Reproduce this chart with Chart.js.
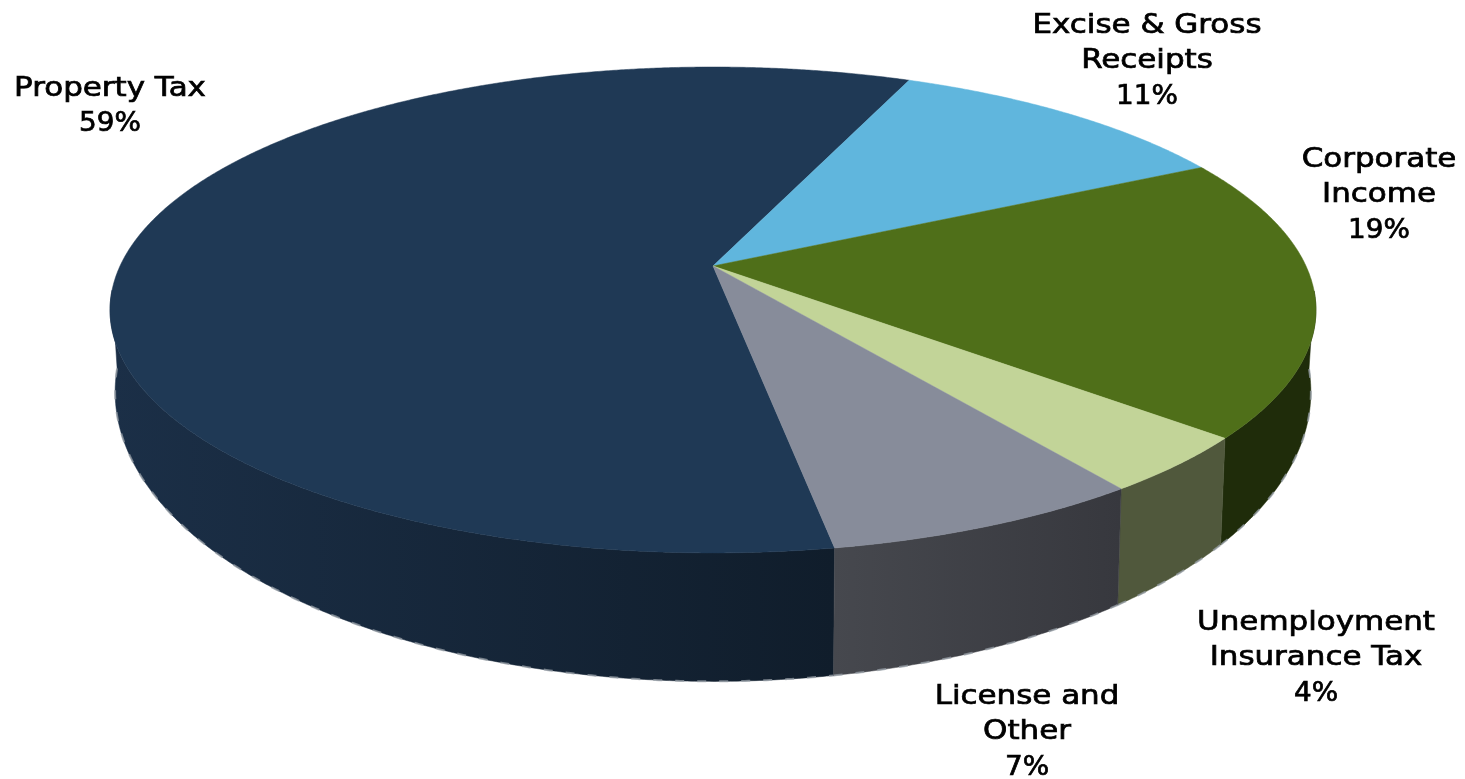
<!DOCTYPE html>
<html>
<head>
<meta charset="utf-8">
<title>Tax revenue by source</title>
<script src="https://cdn.jsdelivr.net/npm/chart.js@4"></script>
<style>
  html, body { margin: 0; padding: 0; background: #fff; }
  #wrap { width: 1465px; height: 779px; }
</style>
</head>
<body>
<div id="wrap"><canvas id="myChart" width="1465" height="779"></canvas></div>
<script>
const categories = ['Property Tax', 'Excise & Gross Receipts', 'Corporate Income', 'Unemployment Insurance Tax', 'License and Other'];
// they round to the printed percentages
const shares = [59, 11.2, 18.7, 3.8, 7.3];
const labelLines = [['Property Tax'], ['Excise & Gross', 'Receipts'], ['Corporate', 'Income'], ['Unemployment', 'Insurance Tax'], ['License and', 'Other']];

const topColors = ['#1f3955', '#60b6dd', '#4f6f19', '#c2d498', '#878c9a'];
const wallFrom = ['#1b2f47', '#3a6d85', '#1f2c0a', '#50583c', '#46484e'];
const wallTo = ['#101d2b', '#3a6d85', '#1f2c0a', '#50583c', '#37383e'];
// label anchor: centre x, first line middle y
const labelPos = [[110, 89], [1147, 26], [1379, 160], [1316, 623], [1027, 697]];

// perspective of the tilted disc, top face and bottom face
const topFace = { cx: 713, cy: 266, a: 593, b: 235, k: 0.181 };
const bottomFace = { cx: 713, cy: 339.5, a: 588, b: 280, k: 0.181 };

function project(f, angle) {
  const u = Math.cos(angle), v = Math.sin(angle);
  const w = 1 - f.k * v;
  return [f.cx + f.a * u / w, f.cy + f.b * v / w];
}

function sampleAngles(start, end) {
  const out = [];
  const n = Math.max(2, Math.ceil((end - start) / 0.005));
  for (let i = 0; i <= n; i++) out.push(start + (end - start) * i / n);
  return out;
}

const pie3d = {
  id: 'pie3d',
  beforeDatasetsDraw(chart) {
    const ctx = chart.ctx;
    const arcs = chart.getDatasetMeta(0).data;
    ctx.save();
    // side walls first
    arcs.forEach((arc, i) => {
      const front = sampleAngles(arc.startAngle, arc.endAngle).filter(t => Math.sin(t) > 0.1);
      if (!front.length) return;
      const up = front.map(t => project(topFace, t));
      const down = front.map(t => project(bottomFace, t));
      const xs = up.concat(down).map(p => p[0]);
      const g = ctx.createLinearGradient(Math.min(...xs), 0, Math.max(...xs), 0);
      g.addColorStop(0, wallFrom[i]);
      g.addColorStop(1, wallTo[i]);
      ctx.beginPath();
      up.forEach((p, j) => j ? ctx.lineTo(p[0], p[1]) : ctx.moveTo(p[0], p[1]));
      down.reverse().forEach(p => ctx.lineTo(p[0], p[1]));
      ctx.closePath();
      ctx.fillStyle = g;
      ctx.strokeStyle = g;
      ctx.lineWidth = 0.5;
      ctx.fill();
      ctx.stroke();
      // rough pale fringe of the bottom edge
      ctx.beginPath();
      down.forEach((p, j) => j ? ctx.lineTo(p[0], p[1]) : ctx.moveTo(p[0], p[1]));
      ctx.strokeStyle = 'rgba(150,158,165,0.75)';
      ctx.lineWidth = 2;
      ctx.setLineDash([9, 13]);
      ctx.stroke();
      ctx.setLineDash([]);
    });
    // top face
    arcs.forEach((arc, i) => {
      ctx.beginPath();
      ctx.moveTo(topFace.cx, topFace.cy);
      sampleAngles(arc.startAngle, arc.endAngle).forEach(t => {
        const p = project(topFace, t);
        ctx.lineTo(p[0], p[1]);
      });
      ctx.closePath();
      ctx.fillStyle = topColors[i];
      ctx.strokeStyle = topColors[i];
      ctx.lineWidth = 0.5;
      ctx.fill();
      ctx.stroke();
    });
    ctx.restore();
    return false;
  },
  afterDraw(chart) {
    const ctx = chart.ctx;
    ctx.save();
    ctx.font = '26px "DejaVu Sans"';
    ctx.textAlign = 'center';
    ctx.textBaseline = 'middle';
    ctx.fillStyle = '#000';
    ctx.strokeStyle = '#000';
    ctx.lineWidth = 0.7;
    labelLines.forEach((lines, i) => {
      const [x, y] = labelPos[i];
      lines.concat(Math.round(shares[i]) + '%').forEach((line, j) => {
        ctx.save();
        ctx.translate(x, y + j * 35.5);
        // the percent lines are narrower than the words in the original
        ctx.scale(j === lines.length ? 1.07 : 1.19, 1);
        ctx.fillText(line, 0, 0);
        ctx.strokeText(line, 0, 0);
        ctx.restore();
      });
    });
    ctx.restore();
  }
};

new Chart(document.getElementById('myChart').getContext('2d'), {
  type: 'pie',
  data: {
    labels: categories,
    datasets: [{ data: shares, backgroundColor: topColors, borderWidth: 0 }]
  },
  options: {
    responsive: false,
    animation: false,
    rotation: 170.3,
    plugins: { legend: { display: false }, tooltip: { enabled: false } }
  },
  plugins: [pie3d]
});
</script>
</body>
</html>
